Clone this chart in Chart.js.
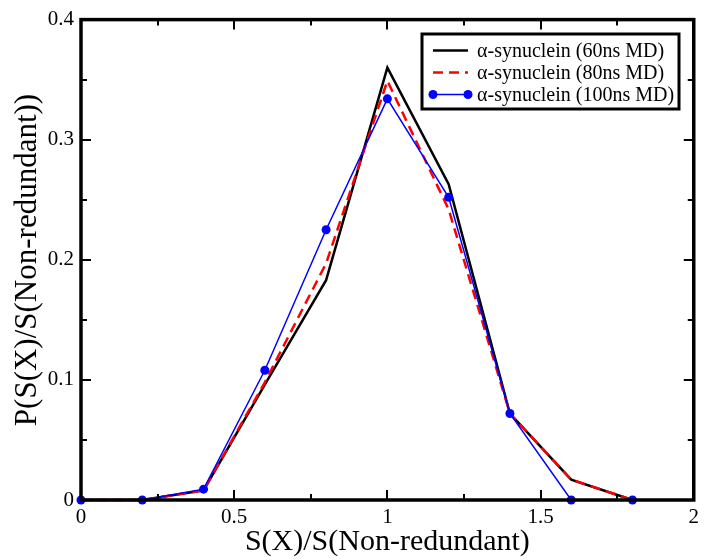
<!DOCTYPE html>
<html>
<head>
<meta charset="utf-8">
<script src="https://cdn.jsdelivr.net/npm/chart.js@4.4.0/dist/chart.umd.min.js"></script>
<style>
  html, body { margin: 0; padding: 0; background: #fff; }
  canvas { display: block; }
</style>
</head>
<body>
<canvas id="c" width="704" height="560"></canvas>
<script>
// x positions, S(X)/S(Non-redundant)
const xs = [0, 0.2, 0.4, 0.6, 0.8, 1.0, 1.2, 1.4, 1.6, 1.8];
// probabilities
const md60 = [0, 0, 0.008, 0.096, 0.183, 0.360, 0.263, 0.072, 0.017, 0];
const md80 = [0, 0, 0.008, 0.098, 0.197, 0.349, 0.242, 0.072, 0.017, 0];
const md100 = [0, 0, 0.009, 0.108, 0.225, 0.334, 0.252, 0.072, 0, 0];

const seriesNames = ['α-synuclein (60ns MD)', 'α-synuclein (80ns MD)', 'α-synuclein (100ns MD)'];
const xTicks = [0, 0.5, 1, 1.5, 2];
const yTicks = [0, 0.1, 0.2, 0.3, 0.4];
const xTickLabels = ['0', '0.5', '1', '1.5', '2'];
const yTickLabels = ['0', '0.1', '0.2', '0.3', '0.4'];
const yTitle = 'P(S(X)/S(Non-redundant))';

const FONT = '"Liberation Serif", "DejaVu Serif", serif';

function pts(ys) {
  return xs.map((x, i) => ({ x: x, y: ys[i] }));
}

// frame, inward ticks, y title and boxed legend, xmgrace style
const framePlugin = {
  id: 'frame',
  afterDatasetsDraw(chart) {
    const ctx = chart.ctx;
    const a = chart.chartArea;
    const xs_ = chart.scales.x, ys_ = chart.scales.y;
    ctx.save();
    ctx.strokeStyle = '#000';
    ctx.lineWidth = 2;
    ctx.beginPath();
    // x ticks, major every 0.5, minor every 0.25
    for (let v = 0; v <= 2.0001; v += 0.25) {
      const px = Math.round(xs_.getPixelForValue(v));
      const len = (Math.abs(v / 0.5 - Math.round(v / 0.5)) < 1e-6) ? 10 : 6;
      ctx.moveTo(px, a.bottom); ctx.lineTo(px, a.bottom - len);
      ctx.moveTo(px, a.top); ctx.lineTo(px, a.top + len);
    }
    // y ticks, major every 0.1, minor every 0.05
    for (let v = 0; v <= 0.40001; v += 0.05) {
      const py = Math.round(ys_.getPixelForValue(v));
      const len = (Math.abs(v / 0.1 - Math.round(v / 0.1)) < 1e-6) ? 10 : 6;
      ctx.moveTo(a.left, py); ctx.lineTo(a.left + len, py);
      ctx.moveTo(a.right, py); ctx.lineTo(a.right - len, py);
    }
    ctx.stroke();

    ctx.lineWidth = 3.5;
    ctx.strokeRect(a.left, a.top, a.right - a.left, a.bottom - a.top);

    // y axis title
    ctx.save();
    ctx.translate(28, 260);
    ctx.rotate(-Math.PI / 2);
    ctx.fillStyle = '#000';
    ctx.font = '31px ' + FONT;
    ctx.textAlign = 'center';
    ctx.textBaseline = 'middle';
    ctx.fillText(yTitle, 0, 0);
    ctx.restore();

    // legend box
    const lx = 422, ly = 34, lw = 257, lh = 75;
    ctx.fillStyle = '#fff';
    ctx.fillRect(lx, ly, lw, lh);
    ctx.lineWidth = 3;
    ctx.strokeRect(lx, ly, lw, lh);

    const rows = [50, 72, 94];
    chart.data.datasets.forEach((ds, i) => {
      const y = rows[i] + 0.5;
      ctx.beginPath();
      ctx.strokeStyle = ds.borderColor;
      ctx.lineWidth = ds.borderWidth;
      ctx.setLineDash(ds.borderDash || []);
      ctx.moveTo(433, y); ctx.lineTo(468, y);
      ctx.stroke();
      ctx.setLineDash([]);
      if (ds.pointRadius > 0) {
        ctx.fillStyle = ds.pointBackgroundColor;
        [433, 468].forEach(px => {
          ctx.beginPath();
          ctx.arc(px, y, ds.pointRadius, 0, Math.PI * 2);
          ctx.fill();
        });
      }
      ctx.fillStyle = '#000';
      ctx.font = '20px ' + FONT;
      ctx.textBaseline = 'middle';
      ctx.textAlign = 'left';
      ctx.fillText(ds.label, 477, y + 1);
    });
    ctx.restore();
  }
};

new Chart(document.getElementById('c'), {
  type: 'line',
  data: {
    datasets: [
      {
        label: seriesNames[0],
        data: pts(md60),
        borderColor: '#000000',
        borderWidth: 2.5,
        pointRadius: 0,
        order: 2
      },
      {
        label: seriesNames[1],
        data: pts(md80),
        borderColor: '#ff0000',
        borderWidth: 2.5,
        borderDash: [10, 6],
        pointRadius: 0,
        order: 1
      },
      {
        label: seriesNames[2],
        data: pts(md100),
        borderColor: '#0000ff',
        borderWidth: 1.5,
        pointRadius: 4.5,
        pointBackgroundColor: '#0000ff',
        pointBorderColor: '#0000ff',
        pointBorderWidth: 0,
        order: 0
      }
    ]
  },
  options: {
    responsive: false,
    animation: false,
    clip: false,
    layout: { padding: { left: 0, right: 7, top: 19, bottom: 0 } },
    plugins: {
      legend: { display: false },
      tooltip: { enabled: false }
    },
    scales: {
      x: {
        type: 'linear',
        min: 0,
        max: 2,
        grid: { display: false, drawTicks: false },
        border: { display: false },
        afterBuildTicks(scale) {
          scale.ticks = xTicks.map(v => ({ value: v }));
        },
        afterFit(scale) { scale.height = 60; },
        ticks: {
          color: '#000',
          padding: 5,
          maxRotation: 0,
          font: { family: FONT, size: 21 },
          callback: (v) => xTickLabels[xTicks.indexOf(v)]
        },
        title: {
          display: true,
          text: 'S(X)/S(Non-redundant)',
          color: '#000',
          font: { family: FONT, size: 30 },
          padding: { top: -4, bottom: 0 }
        }
      },
      y: {
        type: 'linear',
        min: 0,
        max: 0.4,
        grid: { display: false, drawTicks: false },
        border: { display: false },
        afterBuildTicks(scale) {
          scale.ticks = yTicks.map(v => ({ value: v }));
        },
        afterFit(scale) { scale.width = 81; },
        ticks: {
          color: '#000',
          padding: 7,
          font: { family: FONT, size: 21 },
          callback: (v) => yTickLabels[yTicks.indexOf(v)]
        }
      }
    }
  },
  plugins: [framePlugin]
});
</script>
</body>
</html>
